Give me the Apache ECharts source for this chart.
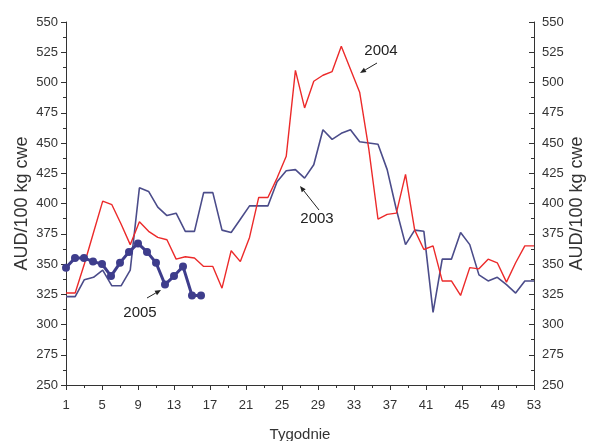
<!DOCTYPE html>
<html>
<head>
<meta charset="utf-8">
<script src="https://cdn.jsdelivr.net/npm/echarts@6/dist/echarts.min.js"></script>
<style>
  html, body { margin: 0; padding: 0; background: #fff; }
  #chart { width: 597px; height: 441px; }
</style>
</head>
<body>
<div id="chart"></div>
<script>
// dane
const yTicks = [250, 550, 25];
const weekIdx = Array.from({ length: 52 }, (_, i) => String(i + 1));
const prices2003 = [323, 323, 337, 339, 345, 332, 332, 345, 413, 410, 397, 390, 392, 377, 377, 409, 409, 378, 376, 387,
  398, 398, 398, 418, 427, 428, 421, 432, 461, 453, 458, 461, 451, 450, 449, 428, 395, 366, 378, 377,
  310, 354, 354, 376, 366, 341, 336, 339, 333, 326, 336, 336];
const prices2004 = [326, 326, 350, 376, 402, 399, 383, 366, 385, 377, 372, 370, 354, 356, 355, 348, 348, 330, 361, 352,
  372, 405, 405, 421, 439, 510, 479, 501, 506, 509, 530, 511, 492, 445, 387, 391, 392, 424, 378, 362,
  365, 336, 336, 324, 347, 346, 354, 351, 335, 351, 365, 365];
const weeks2005 = [1, 2, 3, 4, 5, 6, 7, 8, 9, 10, 11, 12, 13, 14, 15, 16];
const prices2005 = [347, 355, 355, 352, 350, 340, 351, 360, 367, 360, 351, 333, 340, 348, 324, 324];

const font = 'Liberation Sans, Arial, sans-serif';
const ink = '#333';

// strzalka jako linia + grot
function arrow(x1, y1, x2, y2) {
  const a = Math.atan2(y2 - y1, x2 - x1);
  const L = 6, W = 2.5;
  const bx = x2 - L * Math.cos(a), by = y2 - L * Math.sin(a);
  const px = -Math.sin(a) * W, py = Math.cos(a) * W;
  return {
    type: 'group',
    children: [
      { type: 'line', shape: { x1: x1, y1: y1, x2: bx, y2: by }, style: { stroke: '#222', lineWidth: 1 } },
      { type: 'polygon', shape: { points: [[x2, y2], [bx + px, by + py], [bx - px, by - py]] }, style: { fill: '#222' } }
    ]
  };
}
function label(text, x, y) {
  return { type: 'text', x: x, y: y, style: { text: text, font: '15px ' + font, fill: '#222', align: 'center', verticalAlign: 'middle' } };
}

const chart = echarts.init(document.getElementById('chart'));

const yAxisBase = {
  type: 'value',
  min: yTicks[0],
  max: yTicks[1],
  interval: yTicks[2],
  name: 'AUD/100 kg cwe',
  nameLocation: 'middle',
  nameRotate: 90,
  nameMoveOverlap: false,
  nameTextStyle: { fontFamily: font, fontSize: 18, color: ink },
  axisLine: { show: true, lineStyle: { color: ink } },
  axisTick: { show: true, length: 5, lineStyle: { color: ink } },
  minorTick: { show: true, splitNumber: 2, length: 3, lineStyle: { color: ink } },
  splitLine: { show: false },
  axisLabel: { fontFamily: font, fontSize: 13, color: ink, margin: 8 }
};

chart.setOption({
  animation: false,
  grid: { left: 66, right: 63, top: 22, bottom: 56, containLabel: false, outerBoundsMode: 'none' },
  xAxis: [
    {
      type: 'value',
      min: 1,
      max: 53,
      interval: 4,
      name: 'Tygodnie',
      nameLocation: 'middle',
      nameGap: 42,
      nameMoveOverlap: false,
      nameTextStyle: { fontFamily: font, fontSize: 15, color: ink },
      axisLine: { lineStyle: { color: ink } },
      axisTick: { show: true, length: 5, lineStyle: { color: ink } },
      minorTick: { show: true, splitNumber: 2, length: 3, lineStyle: { color: ink } },
      splitLine: { show: false },
      axisLabel: { fontFamily: font, fontSize: 13, color: ink, margin: 14 }
    },
    {
      type: 'category',
      data: weekIdx,
      boundaryGap: false,
      show: false
    }
  ],
  yAxis: [
    Object.assign({}, yAxisBase, { position: 'left', nameGap: 35 }),
    Object.assign({}, yAxisBase, {
      position: 'right',
      nameGap: 34,
      axisTick: { show: true, inside: true, length: 5, lineStyle: { color: ink } },
      minorTick: { show: true, splitNumber: 2, length: 3, lineStyle: { color: ink } }
    })
  ],
  series: [
    {
      name: '2003',
      type: 'line',
      xAxisIndex: 1,
      data: prices2003,
      symbol: 'none',
      lineStyle: { color: '#4b4c8a', width: 1.6 }
    },
    {
      name: '2004',
      type: 'line',
      xAxisIndex: 1,
      data: prices2004,
      symbol: 'none',
      lineStyle: { color: '#ec2a2a', width: 1.4 }
    },
    {
      name: '2005',
      type: 'line',
      xAxisIndex: 0,
      data: weeks2005.map((w, i) => [w, prices2005[i]]),
      symbol: 'circle',
      symbolSize: 8,
      itemStyle: { color: '#3e3d8c' },
      lineStyle: { color: '#3e3d8c', width: 3 }
    }
  ],
  graphic: [
    label('2004', 381, 51),
    arrow(377, 63, 360, 73),
    label('2003', 317, 219),
    arrow(319, 210, 300, 186),
    label('2005', 140, 313),
    arrow(147, 298, 161, 290)
  ]
});
</script>
</body>
</html>
